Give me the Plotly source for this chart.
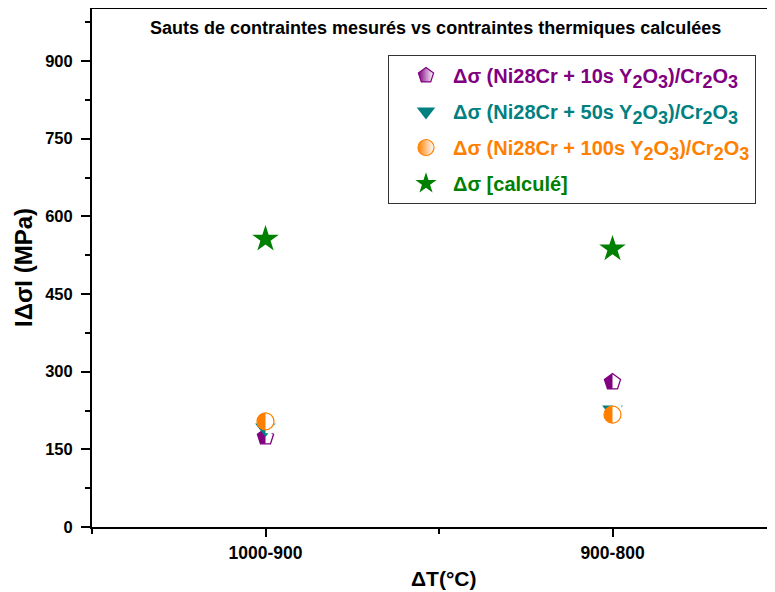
import plotly.graph_objects as go

categories = ["1000-900", "900-800"]
cat_pos = [1, 2]
s10 = [174, 280]
s50 = [191, 226]
s100 = [204, 217]
calc = [556, 537]

colors = ["#800080", "#008080", "#FF8000", "#008000"]

SUB = '<sub><span style="font-size:18px">{}</span></sub>'
def chem(n):
    return ("Δσ (Ni28Cr + {}s Y" + SUB.format("2") + "O" + SUB.format("3") +
            ")/Cr" + SUB.format("2") + "O" + SUB.format("3")).format(n)

names = [chem(10), chem(50), chem(100), "Δσ [calculé]"]

FONT = "Liberation Sans, Arial, sans-serif"

# page has an 8px body margin; figure coordinates below are page - 8
W, H = 775, 592
ML, MT, MB = 84, 1, 73
PLOT_W = W - ML
PLOT_H = H - MT - MB
X0 = 0.5
X1 = X0 + PLOT_W / 347.0
Y1 = (PLOT_H) / (466.0 / 900.0)
MASK_SHIFT_PX = 4.5
shift = MASK_SHIFT_PX * (X1 - X0) / PLOT_W

MS = 17

fig = go.Figure()

# layer 1: pentagon fill
fig.add_trace(go.Scatter(x=cat_pos, y=s10, mode="markers", showlegend=False,
    marker=dict(symbol="pentagon", size=MS, color=colors[0], line=dict(width=0))))
# layer 2: white mask on right half of pentagon
fig.add_trace(go.Scatter(x=cat_pos, y=s10, mode="markers", showlegend=False, xaxis="x2",
    marker=dict(symbol="line-ns", size=MS, color="white",
                line=dict(color="white", width=9))))
# layer 3: pentagon outline, triangle, circle fill
fig.add_trace(go.Scatter(x=cat_pos, y=s10, mode="markers", showlegend=False, xaxis="x3",
    marker=dict(symbol="pentagon-open", size=MS, color=colors[0],
                line=dict(color=colors[0], width=1.3))))
fig.add_trace(go.Scatter(x=cat_pos, y=s50, mode="markers", showlegend=False, xaxis="x3",
    marker=dict(symbol="triangle-down", size=18, color=colors[1], line=dict(width=0))))
fig.add_trace(go.Scatter(x=cat_pos, y=s100, mode="markers", showlegend=False, xaxis="x3",
    marker=dict(symbol="circle", size=MS, color=colors[2], line=dict(width=0))))
# layer 4: white mask on right half of circle
fig.add_trace(go.Scatter(x=cat_pos, y=s100, mode="markers", showlegend=False, xaxis="x4",
    marker=dict(symbol="line-ns", size=MS, color="white",
                line=dict(color="white", width=9))))
# layer 5: circle outline, star
fig.add_trace(go.Scatter(x=cat_pos, y=s100, mode="markers", showlegend=False, xaxis="x5",
    marker=dict(symbol="circle-open", size=MS, color=colors[2],
                line=dict(color=colors[2], width=1.3))))
fig.add_trace(go.Scatter(x=cat_pos, y=calc, mode="markers", showlegend=False, xaxis="x5",
    marker=dict(symbol="star", size=20, color=colors[3], line=dict(width=0))))

# legend entries
legend_markers = [
    dict(symbol="pentagon", size=16, color=colors[0],
         gradient=dict(type="horizontal", color="white"),
         line=dict(color=colors[0], width=1.2)),
    dict(symbol="triangle-down", size=16, color=colors[1], line=dict(width=0)),
    dict(symbol="circle", size=16, color=colors[2],
         gradient=dict(type="horizontal", color="white"),
         line=dict(color=colors[2], width=1.2)),
    dict(symbol="star", size=16, color=colors[3], line=dict(width=0)),
]
for i in range(4):
    fig.add_trace(go.Scatter(
        x=[None], y=[None], mode="markers",
        name='<span style="color:{}">{}</span>'.format(colors[i], names[i]),
        legendgroup="g{}".format(i), marker=legend_markers[i],
    ))

fig.update_layout(
    width=W, height=H,
    margin=dict(l=ML, r=0, t=MT, b=MB, autoexpand=False),
    paper_bgcolor="white", plot_bgcolor="white",
    font=dict(family=FONT, size=16, color="black", weight="bold"),
    showlegend=True,
    legend=dict(
        x=(380 - ML) / PLOT_W, y=1 - (47 - MT) / PLOT_H,
        xanchor="left", yanchor="top",
        bgcolor="white", bordercolor="#333333", borderwidth=1,
        font=dict(family=FONT, size=20, weight="bold"),
        itemsizing="trace", itemwidth=44, indentation=10,
        tracegroupgap=7, traceorder="grouped",
    ),
    annotations=[
        dict(text="Sauts de contraintes mesurés vs contraintes thermiques calculées",
             xref="paper", yref="paper", x=(427 - ML) / PLOT_W, y=1 - (20 - MT) / PLOT_H,
             xanchor="center", yanchor="middle", showarrow=False,
             font=dict(family=FONT, size=18, weight="bold")),
        dict(text="IΔσI (MPa)", xref="paper", yref="paper",
             x=(15 - ML) / PLOT_W, y=1 - (260 - MT) / PLOT_H, textangle=-90,
             xanchor="center", yanchor="middle", showarrow=False,
             font=dict(family=FONT, size=24, weight="bold")),
        dict(text="ΔT(°C)", xref="paper", yref="paper",
             x=(435 - ML) / PLOT_W, y=-(570 - (H - MB)) / PLOT_H,
             xanchor="center", yanchor="middle", showarrow=False,
             font=dict(family=FONT, size=21, weight="bold")),
    ],
)

hidden = dict(overlaying="x", visible=False, automargin=False)
fig.update_layout(
    xaxis2=dict(range=[X0 - shift, X1 - shift], **hidden),
    xaxis3=dict(range=[X0, X1], **hidden),
    xaxis4=dict(range=[X0 - shift, X1 - shift], **hidden),
    xaxis5=dict(range=[X0, X1], **hidden),
)

fig.update_layout(xaxis=dict(
    range=[X0, X1], showgrid=False, zeroline=False, automargin=False,
    showline=True, linecolor="black", linewidth=2, mirror=True,
    tickmode="array", tickvals=cat_pos, ticktext=categories,
    ticks="outside", ticklen=8, tickwidth=1.5, tickcolor="black",
    minor=dict(tickmode="array", tickvals=[0.5, 1.5, 2.5], ticks="outside",
               ticklen=5, tickwidth=1.5, tickcolor="black"),
    tickfont=dict(size=17.5, weight="bold"),
    ticklabelstandoff=1,
))
fig.update_yaxes(
    range=[0, Y1], showgrid=False, zeroline=False, automargin=False,
    showline=True, linecolor="black", linewidth=2, mirror=False,
    tick0=0, dtick=150,
    ticks="outside", ticklen=9, tickwidth=1.5, tickcolor="black",
    minor=dict(dtick=75, tick0=0, ticks="outside", ticklen=5, tickwidth=1.5,
               tickcolor="black"),
    tickfont=dict(size=16.5, weight="bold"),
    ticklabelstandoff=5,
)

fig.write_html("out.html")
